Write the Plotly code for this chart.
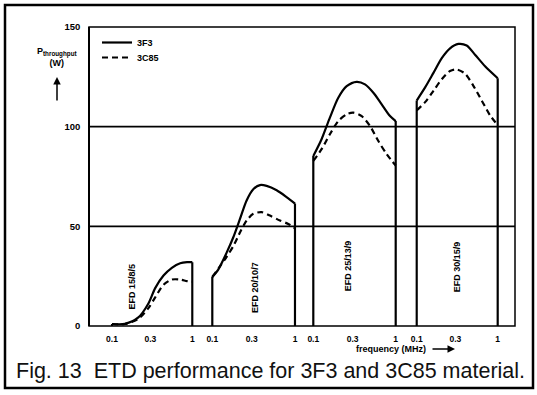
import numpy as np
import plotly.graph_objects as go

# ---------------- data ----------------
core_labels = ["EFD 15/8/5", "EFD 20/10/7", "EFD 25/13/9", "EFD 30/15/9"]
tick_vals = [0.1, 0.3, 1.0]
tick_text = ["0.1", "0.3", "1"]
y_ticks = [0, 50, 100, 150]
grid_vals = [50, 100]

# EFD 15/8/5
f1_3f3 = [0.1, 0.145, 0.213, 0.284, 0.345, 0.438, 0.556, 0.707, 0.86, 1.0]
p1_3f3 = [1.0, 1.1, 4.3, 11.3, 19.0, 25.3, 29.2, 31.5, 32.0, 32.0]
f1_3c85 = [0.1, 0.145, 0.213, 0.284, 0.345, 0.438, 0.556, 0.707, 0.86, 1.0]
p1_3c85 = [1.0, 1.0, 3.6, 9.0, 14.4, 20.7, 23.3, 23.3, 22.5, 22.2]

# EFD 20/10/7
f2_3f3 = [0.1, 0.118, 0.149, 0.179, 0.216, 0.26, 0.313, 0.377, 0.454, 0.6, 0.79, 1.0]
p2_3f3 = [24.6, 28.3, 36.8, 44.4, 53.7, 63.0, 68.6, 70.7, 70.3, 68.1, 64.7, 61.4]
f2_3c85 = [0.1, 0.124, 0.149, 0.18, 0.216, 0.26, 0.313, 0.395, 0.498, 0.658, 0.83, 1.0]
p2_3c85 = [24.6, 30.0, 34.7, 40.2, 46.9, 52.9, 56.3, 57.1, 55.4, 52.9, 51.2, 49.0]

# EFD 25/13/9
f3_3f3 = [0.1, 0.126, 0.159, 0.201, 0.254, 0.336, 0.424, 0.536, 0.676, 0.853, 1.0]
p3_3f3 = [85.3, 93.7, 104.5, 114.5, 120.3, 122.5, 121.2, 117.0, 111.2, 105.3, 102.8]
f3_3c85 = [0.1, 0.126, 0.159, 0.201, 0.254, 0.306, 0.387, 0.488, 0.616, 0.777, 1.0]
p3_3c85 = [82.8, 88.7, 96.2, 102.8, 106.2, 107.0, 105.3, 100.3, 92.8, 86.2, 80.5]

# EFD 30/15/9
f4_3f3 = [0.1, 0.127, 0.161, 0.204, 0.258, 0.327, 0.414, 0.525, 0.698, 1.0]
p4_3f3 = [113.1, 119.7, 127.0, 134.4, 139.3, 141.5, 140.7, 136.1, 130.3, 124.3]
f4_3c85 = [0.1, 0.127, 0.161, 0.204, 0.258, 0.312, 0.395, 0.501, 0.635, 0.804, 1.0]
p4_3c85 = [108.2, 112.3, 118.0, 123.8, 127.9, 128.7, 126.6, 120.5, 113.1, 105.7, 100.8]

# label anchor points (frequency, W) for the rotated core names
label_f = [0.18, 0.328, 0.264, 0.314]
label_p = [20.0, 19.6, 30.0, 30.0]

series = [
    (f1_3f3, p1_3f3, f1_3c85, p1_3c85),
    (f2_3f3, p2_3f3, f2_3c85, p2_3c85),
    (f3_3f3, p3_3f3, f3_3c85, p3_3c85),
    (f4_3f3, p4_3f3, f4_3c85, p4_3c85),
]

# ---------------- layout geometry ----------------
W, H = 537, 395
L, R, T, B = 89, 22, 27, 69
pw, ph = W - L - R, H - T - B


def px2x(p):
    return (p - L) / pw


def py2y(p):
    return (H - B - p) / ph


seg_px = [(112, 192.3), (212.3, 295), (313.3, 395.7), (416.7, 497.7)]
pad = 0.02  # decades of padding each side so edge lines are not clipped

FONT = "Liberation Sans, Arial, sans-serif"


def bold(s):
    return dict(family=FONT, size=s, color="black", weight="bold")


fig = go.Figure()

for k, (fs, ps, fd, pdsh) in enumerate(series):
    ax = "x%d" % (k + 2)
    show = k == 0
    fig.add_trace(go.Scatter(x=fs, y=ps, xaxis=ax, yaxis="y", mode="lines",
                             name="3F3", showlegend=show, legend="legend",
                             line=dict(color="black", width=2.2, shape="spline", smoothing=0.8)))
    fig.add_trace(go.Scatter(x=fd, y=pdsh, xaxis=ax, yaxis="y", mode="lines",
                             name="3C85", showlegend=show, legend="legend2",
                             line=dict(color="black", width=2.2, dash="6px,4px",
                                       shape="spline", smoothing=0.8)))
    # vertical edges of the 3F3 curve down to the axis
    fig.add_trace(go.Scatter(x=[fs[0], fs[0]], y=[0, ps[0]], xaxis=ax, yaxis="y",
                             mode="lines", showlegend=False, hoverinfo="skip",
                             line=dict(color="black", width=2.2)))
    fig.add_trace(go.Scatter(x=[fs[-1], fs[-1]], y=[ps[-1], 0], xaxis=ax, yaxis="y",
                             mode="lines", showlegend=False, hoverinfo="skip",
                             line=dict(color="black", width=2.2)))

leg_common = dict(xanchor="left", yanchor="top", font=bold(9),
                  bgcolor="rgba(0,0,0,0)", itemwidth=30, tracegroupgap=0)
layout = dict(
    width=W, height=H, margin=dict(l=L, r=R, t=T, b=B, autoexpand=False),
    paper_bgcolor="white", plot_bgcolor="white",
    font=dict(family=FONT, color="black"),
    yaxis=dict(range=[0, 150], tickvals=y_ticks, showgrid=False,
               showline=True, linecolor="black", linewidth=1.5, zeroline=False,
               ticks="", ticklabelstandoff=6, tickfont=bold(9.5),
               anchor="free", position=0, automargin=False, fixedrange=True),
    legend=dict(x=px2x(97), y=py2y(28), **leg_common),
    legend2=dict(x=px2x(97), y=py2y(43), **leg_common),
)
for k, (a, b) in enumerate(seg_px):
    d = pad * (b - a)
    layout["xaxis%d" % (k + 2)] = dict(
        type="log", anchor="y", domain=[px2x(a - d), px2x(b + d)],
        range=[-1 - pad, pad], tickvals=tick_vals, ticktext=tick_text,
        showgrid=False, showline=False, zeroline=False, ticks="",
        ticklabelstandoff=6, tickfont=bold(8.5), automargin=False, fixedrange=True)
fig.update_layout(**layout)

ann = []
for k, lab in enumerate(core_labels):
    ann.append(dict(x=np.log10(label_f[k]), y=label_p[k], xref="x%d" % (k + 2), yref="y",
                    text=lab, showarrow=False, textangle=-90, font=bold(9),
                    xanchor="center", yanchor="middle"))
ann += [
    dict(x=px2x(57), y=py2y(57), xref="paper", yref="paper", showarrow=False,
         text="P<sub>throughput</sub><br>(W)", font=bold(9), align="center",
         xanchor="center", yanchor="middle"),
    dict(x=px2x(57), y=py2y(77), xref="paper", yref="paper", text="",
         showarrow=True, ax=0, ay=25, arrowhead=2, arrowsize=1, arrowwidth=1.5,
         arrowcolor="black"),
    dict(x=px2x(391), y=py2y(349), xref="paper", yref="paper", showarrow=False,
         text="frequency (MHz)", font=bold(9), xanchor="center", yanchor="middle"),
    dict(x=px2x(455), y=py2y(349), xref="paper", yref="paper", text="",
         showarrow=True, ax=-24, ay=0, arrowhead=2, arrowsize=1, arrowwidth=1.5,
         arrowcolor="black"),
    dict(x=px2x(270), y=py2y(371), xref="paper", yref="paper", showarrow=False,
         text="Fig. 13\u00a0 ETD performance for 3F3 and 3C85 material.",
         font=dict(family=FONT, size=21.5, color="#111"),
         xanchor="center", yanchor="middle"),
]
fig.update_layout(annotations=ann)

# plot frame and horizontal reference lines
fig.add_shape(type="rect", xref="paper", yref="paper", x0=0, x1=1, y0=0, y1=1,
              line=dict(color="black", width=1.5), layer="above")
for g in grid_vals:
    fig.add_shape(type="line", xref="paper", yref="y", x0=0, x1=1, y0=g, y1=g,
                  line=dict(color="black", width=1.8), layer="below")
# outer figure border
fig.add_shape(type="rect", xref="paper", yref="paper",
              x0=px2x(5), x1=px2x(533), y0=py2y(388), y1=py2y(5),
              line=dict(color="black", width=2.5), layer="above")

fig.write_html("out.html", config={"displayModeBar": False},
               post_script="document.body.style.margin='0';")
